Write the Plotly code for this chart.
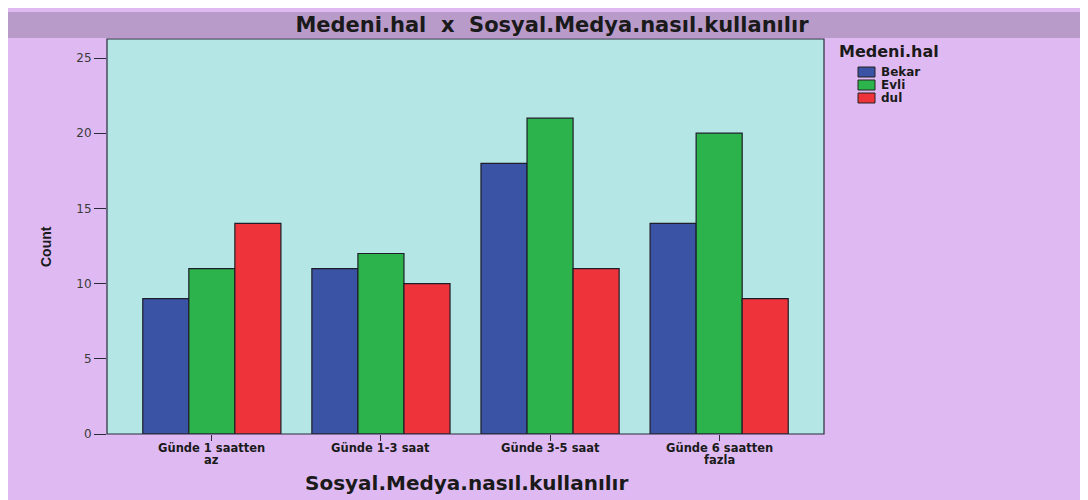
import plotly.graph_objects as go

categories = ["Günde 1 saatten<br>az", "Günde 1-3 saat", "Günde 3-5 saat", "Günde 6 saatten<br>fazla"]
series_names = ["Bekar", "Evli", "dul"]
bekar = [9, 11, 18, 14]
evli = [11, 12, 21, 20]
dul = [14, 10, 11, 9]
colors = ["#3a53a4", "#2db34b", "#ee333a"]
y_ticks = [0, 5, 10, 15, 20, 25]

# page body has an 8px margin; coordinates below are screen pixels
OFF = 8
W, H = 1080, 492
PL, PR, PT, PB = 107, 824, 39, 434  # plot area on screen
pw, ph = PR - PL, PB - PT

def px2x(px):
    return (px - PL) / pw

def py2y(py):
    return (PB - py) / ph

DV = "DejaVu Sans"
fig = go.Figure()
for name, vals, col in zip(series_names, [bekar, evli, dul], colors):
    fig.add_trace(go.Bar(
        x=categories, y=vals, name=name,
        marker=dict(color=col, line=dict(color="#1e1e2a", width=1.2)),
        showlegend=False,
    ))

shapes = [
    dict(type="rect", xref="paper", yref="paper", x0=px2x(OFF - 2), x1=px2x(W + OFF + 2),
         y0=py2y(38), y1=py2y(12), fillcolor="#b99bca", line=dict(width=0), layer="below"),
    dict(type="rect", xref="paper", yref="paper", x0=0, x1=1, y0=0, y1=1,
         fillcolor="rgba(0,0,0,0)", line=dict(color="#2a2a3a", width=1.2)),
]
annotations = []

# category labels (split lines so spacing matches the tight reference)
for cat in categories:
    for j, line in enumerate(cat.split("<br>")):
        annotations.append(dict(text=line, xref="x", yref="paper", x=cat, y=py2y(447.5 + 13 * j),
                                xanchor="center", yanchor="middle", showarrow=False,
                                font=dict(family=DV, size=11.5, color="#1a1a1a", weight="bold")))

# axis titles
annotations.append(dict(text="Sosyal.Medya.nasıl.kullanılır", xref="paper", yref="paper",
                        x=px2x(466), y=py2y(483), xanchor="center", yanchor="middle",
                        showarrow=False, font=dict(family=DV, size=20, color="#1a1a1a", weight="bold")))
annotations.append(dict(text="Count", xref="paper", yref="paper", x=px2x(46), y=py2y(247),
                        xanchor="center", yanchor="middle", textangle=-90, showarrow=False,
                        font=dict(family="Arial", size=14, color="#1a1a1a", weight="bold")))

# legend
annotations.append(dict(text="Medeni.hal", xref="paper", yref="paper", x=px2x(837), y=py2y(52),
                        xanchor="left", yanchor="middle", showarrow=False,
                        font=dict(family=DV, size=16, color="#1a1a1a", weight="bold")))
for i, (name, col) in enumerate(zip(series_names, colors)):
    yc = 72 + i * 13
    shapes.append(dict(type="rect", xref="paper", yref="paper",
                       x0=px2x(858), x1=px2x(875), y0=py2y(yc + 5), y1=py2y(yc - 5),
                       fillcolor=col, line=dict(color="#222", width=1)))
    annotations.append(dict(text=name, xref="paper", yref="paper",
                            x=px2x(879), y=py2y(yc), xanchor="left", yanchor="middle",
                            showarrow=False, font=dict(family=DV, size=12, color="#1a1a1a", weight="bold")))

fig.update_layout(
    width=W, height=H,
    margin=dict(l=PL - OFF, r=W - (PR - OFF), t=PT - OFF, b=H - (PB - OFF)),
    paper_bgcolor="#dfbaf2",
    plot_bgcolor="#b3e6e4",
    barmode="group", bargap=0.183, bargroupgap=0,
    title=dict(text="Medeni.hal  x  Sosyal.Medya.nasıl.kullanılır", x=(552 - OFF) / W, xanchor="center",
               xref="container", y=1 - (25 - OFF) / H, yanchor="middle", yref="container",
               font=dict(family=DV, size=21, color="#1a1a1a", weight="bold")),
    xaxis=dict(range=[-0.62, 3.62], showgrid=False, zeroline=False, showticklabels=False,
               showline=False, ticks="outside", ticklen=6, tickcolor="#2a2a3a"),
    yaxis=dict(range=[0, (PB - PT) / 15.04], tickvals=y_ticks, showgrid=False, zeroline=False,
               showline=False, ticks="outside", ticklen=12, tickcolor="#2a2a3a", tickwidth=1.2,
               tickfont=dict(family=DV, size=12, color="#3a3a3a")),
    shapes=shapes,
    annotations=annotations,
)

fig.write_html("out.html")
